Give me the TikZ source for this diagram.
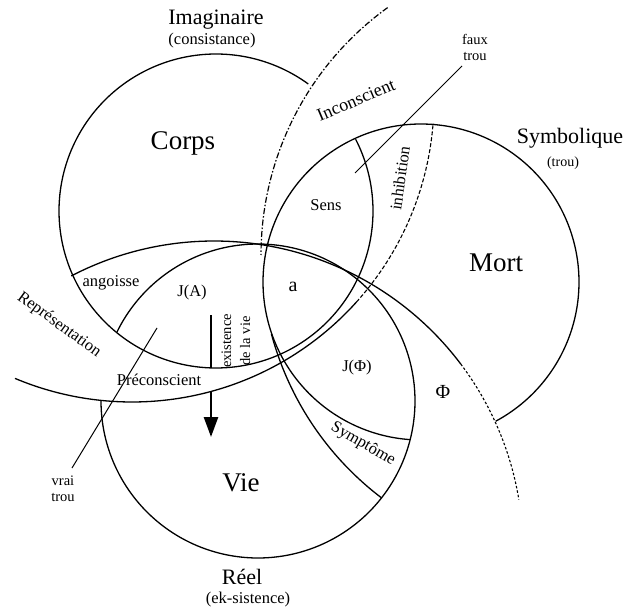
\documentclass[tikz,border=0pt]{standalone}
\usepackage{fontspec}
\setmainfont{Liberation Serif}
\usetikzlibrary{arrows.meta}
\begin{document}
\begin{tikzpicture}[x=1pt,y=-1pt,
  ring/.style={line width=1.3pt},
  incdash/.style={line width=1.2pt, dash pattern=on 6pt off 2pt on 1.5pt off 2pt},
  inhdash/.style={line width=1.1pt, dash pattern=on 4pt off 2pt},
  phidash/.style={line width=1.1pt, dash pattern=on 2.5pt off 2pt},
  pointer/.style={line width=1pt},
  big/.style={inner sep=0pt, font=\fontsize{27}{29}\selectfont},
  reg/.style={inner sep=0pt, font=\fontsize{22}{24}\selectfont},
  paren/.style={inner sep=0pt, font=\fontsize{16.5}{18}\selectfont},
  lbl/.style={inner sep=0pt, font=\fontsize{16.5}{19}\selectfont},
  small/.style={inner sep=0pt, align=center, font=\fontsize{14.5}{16}\selectfont},
  shaft/.style={line width=2.6pt}
]
\fill[white] (0,0) rectangle (623,609);
\useasboundingbox (0,0) rectangle (623,609);

% --- the three rings ---
% Imaginaire
\draw[ring] plot[domain=-27.2:306, samples=240, variable=\t] ({216+157*cos(\t)},{211+157*sin(\t)});
% Symbolique
\draw[ring] plot[domain=94:421.8, samples=240, variable=\t] ({421+158*cos(\t)},{282+158*sin(\t)});
% Reel
\draw[ring] plot[domain=-154:180, samples=240, variable=\t] ({258+157*cos(\t)},{401+157*sin(\t)});

% --- the three large arcs ---
% angoisse / J(A) / a  ->  Phi
\draw[ring] plot[domain=-117.5:-37, samples=160, variable=\t] ({214+309*cos(\t)},{550+309*sin(\t)});
\draw[phidash] plot[domain=-37:-9.4, samples=80, variable=\t] ({214+309*cos(\t)},{550+309*sin(\t)});
% Representation / Preconscient -> inhibition
\draw[ring] plot[domain=112.8:42, samples=160, variable=\t] ({132+302*cos(\t)},{100+302*sin(\t)});
\draw[inhdash] plot[domain=42:4.4, samples=80, variable=\t] ({132+302*cos(\t)},{100+302*sin(\t)});
% Inconscient -> Symptome
\draw[incdash] plot[domain=234.2:180, samples=120, variable=\t] ({566+305*cos(\t)},{255+305*sin(\t)});
\draw[ring] plot[domain=165:127.2, samples=80, variable=\t] ({566+305*cos(\t)},{255+305*sin(\t)});

% --- pointers ---
\coordinate (ft1) at (462,66);
\coordinate (ft2) at (355,173);
\draw[pointer] (ft1) -- (ft2);
\coordinate (vt1) at (157,328);
\coordinate (vt2) at (72,468);
\draw[pointer] (vt1) -- (vt2);

% --- arrow ---
\coordinate (ar1) at (211,315);
\coordinate (ar2) at (211,368);
\coordinate (ar3) at (211,391);
\coordinate (ar4) at (211,437);
\draw[shaft] (ar1) -- (ar2);
\draw[shaft, -{Triangle[width=14pt,length=20pt]}] (ar3) -- (ar4);

% --- labels ---
\node[reg] (imag) at (216,20) {Imaginaire};
\node[paren] (cons) at (212,41) {(consistance)};
\node[big] (corps) at (183,143) {Corps};
\node[lbl, font=\fontsize{18}{20}\selectfont, rotate=23] (incons) at (356,100) {Inconscient};
\node[small] (faux) at (475,47) {faux\\trou};
\node[reg] (symb) at (570,138) {Symbolique};
\node[paren, font=\fontsize{14}{16}\selectfont] (trou) at (563,163) {(trou)};
\node[lbl] (sens) at (326,205) {Sens};
\node[lbl, rotate=82] (inhib) at (400,178) {inhibition};
\node[big] (mort) at (496,263) {Mort};
\node[lbl] (ang) at (111,283) {angoisse};
\node[lbl] (ja) at (192,293) {J(A)};
\node[lbl, font=\fontsize{20}{22}\selectfont] (a) at (293,287) {a};
\node[lbl, rotate=-36] (repr) at (59,325) {Représentation};
\node[small, font=\fontsize{14.5}{19}\selectfont, rotate=90] (exist) at (236,341) {existence\\de la vie};
\node[lbl] (precons) at (159,380) {Préconscient};
\node[lbl] (jphi) at (357,368) {J(Φ)};
\node[lbl, font=\fontsize{20}{22}\selectfont] (phi) at (443,392) {Φ};
\node[lbl, rotate=-30] (sympt) at (363,444) {Symptôme};
\node[small] (vrai) at (63,489) {vrai\\trou};
\node[big] (vie) at (241,483) {Vie};
\node[reg] (reel) at (242,577) {Réel};
\node[paren] (eks) at (248,600) {(ek-sistence)};
\end{tikzpicture}
\end{document}
